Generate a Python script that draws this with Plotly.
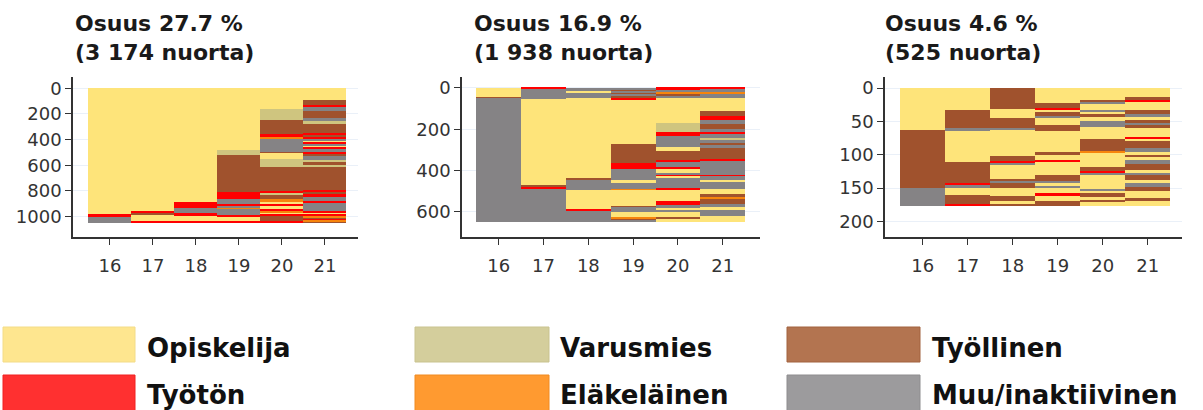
import plotly.graph_objects as go

# ---------------- data ----------------
AGES = [16, 17, 18, 19, 20, 21]

STATE_NAMES = {
    "O": "Opiskelija", "V": "Varusmies", "T": "Työllinen",
    "U": "Työtön", "E": "Eläkeläinen", "M": "Muu/inaktiivinen",
}
STATE_ORDER = ["O", "V", "T", "U", "E", "M"]

TITLES = ["Osuus 27.7 %<br>(3 174 nuorta)",
          "Osuus 16.9 %<br>(1 938 nuorta)",
          "Osuus 4.6 %<br>(525 nuorta)"]

# Panel 1: for each age column, states from top to bottom and cumulative segment ends
P1_STATES = [
    list("OUM"),
    list("OUTOU"),
    list("OUMUOU"),
    list("OVTUMUMEMUOU"),
    list("OVTUEUMTOVTUVTEOUOUEOUTU"),
    list("OTUMTMVTUTUMOUMOUMUTMVTVTUTUMUMUOUETUET"),
]
P1_ENDS = [
    [985, 1000, 1048],
    [962, 972, 982, 1038, 1048],
    [885, 935, 975, 995, 1040, 1048],
    [480, 520, 810, 865, 905, 915, 935, 942, 990, 998, 1040, 1048],
    [160, 248, 360, 385, 392, 398, 495, 508, 552, 612, 805, 818, 830, 870, 885,
     905, 920, 940, 960, 970, 978, 998, 1040, 1048],
    [90, 135, 145, 175, 230, 255, 275, 350, 365, 380, 392, 410, 420, 432, 450,
     460, 475, 500, 512, 530, 560, 575, 600, 612, 800, 812, 830, 845, 880, 895,
     960, 975, 985, 1000, 1010, 1020, 1030, 1040, 1048],
]

P2_STATES = [
    list("OTM"),
    list("UMOTUM"),
    list("MOMOTMOUM"),
    list("MTMTMTUOTUMOMEOTMOETM"),
    list("UMETMOVUMOTUMUOMUOMUOUMOMOTO"),
    list("UMEMOTUMTMUMVMTMTUMUMOMOTETMOMO"),
]
P2_ENDS = [
    [45, 50, 650],
    [7, 52, 472, 477, 489, 650],
    [15, 22, 48, 440, 447, 492, 587, 595, 650],
    [10, 18, 25, 32, 40, 48, 58, 273, 365, 393, 445, 462, 488, 493, 572, 578,
     602, 628, 635, 640, 650],
    [8, 20, 30, 38, 50, 170, 212, 233, 285, 305, 352, 360, 380, 390, 413, 420,
     428, 437, 486, 494, 545, 565, 580, 590, 602, 622, 636, 650],
    [6, 20, 28, 50, 112, 135, 155, 175, 200, 215, 225, 240, 250, 265, 275, 290,
     345, 355, 420, 427, 445, 455, 490, 515, 530, 535, 560, 575, 590, 620, 650],
]

P3_STATES = [
    list("OTM"),
    list("OTMOTUMOTU"),
    list("TOTMOTUMOTMTOTOT"),
    list("OTUOTMOTOTOUOTMOMOUOT"),
    list("OTOMOMOTOMOTEOTUMOMOTOTO"),
    list("OTUOTMOTMTOUOTMOTOMTOMTOMTOTO"),
]
P3_ENDS = [
    [63, 150, 177],
    [33, 60, 64, 111, 143, 146, 150, 160, 174, 177],
    [32, 45, 60, 63, 102, 109, 112, 115, 136, 140, 142, 150, 162, 170, 174, 177],
    [22, 30, 33, 36, 43, 45, 55, 64, 96, 101, 108, 111, 131, 139, 143, 148, 150,
     158, 162, 170, 177],
    [18, 20, 22, 24, 33, 36, 39, 43, 50, 58, 76, 94, 97, 118, 125, 128, 130, 151,
     155, 158, 163, 169, 171, 177],
    [13, 18, 21, 33, 39, 44, 48, 52, 56, 60, 73, 76, 80, 90, 96, 100, 103, 108,
     114, 123, 128, 131, 138, 143, 148, 155, 165, 170, 177],
]

Y_TICKS = [[0, 200, 400, 600, 800, 1000], [0, 200, 400, 600], [0, 50, 100, 150, 200]]

# ---------------- styling ----------------
BAR_COLORS = {"O": "#FEE47A", "V": "#CFC57F", "T": "#A0522D",
              "U": "#FF0000", "E": "#F7850C", "M": "#858385"}
LEGEND_COLORS = {"O": "#FEE68F", "V": "#D4CE9C", "T": "#B37450",
                 "U": "#FF3030", "E": "#FF9A30", "M": "#9C9B9D"}
LEGEND_BORDER = {"O": "#F3DC88", "V": "#C9C38F", "T": "#A2623E",
                 "U": "#F02020", "E": "#F08A20", "M": "#8E8D8F"}

W, H = 1203, 410
X_PIX = [(73, 358), (462, 760), (885, 1182)]
Y_TOP, Y_BOT = 77, 237
Y_RANGES = [[1159, -88], [721, -53], [223.5, -16.5]]
X_RANGES = [[15.14, 21.77], [15.18, 21.83], [15.16, 21.76]]
TITLE_X = [73, 472, 883]

PANELS = [(P1_STATES, P1_ENDS), (P2_STATES, P2_ENDS), (P3_STATES, P3_ENDS)]

fig = go.Figure()

for p, (states, ends) in enumerate(PANELS):
    xa = "x" if p == 0 else f"x{p+1}"
    ya = "y" if p == 0 else f"y{p+1}"
    for s in STATE_ORDER:
        xs, ys, bases = [], [], []
        for age, col_states, col_ends in zip(AGES, states, ends):
            start = 0
            for st, e in zip(col_states, col_ends):
                if st == s:
                    xs.append(age)
                    ys.append(e - start)
                    bases.append(start)
                start = e
        fig.add_trace(go.Bar(
            x=xs, y=ys, base=bases, xaxis=xa, yaxis=ya,
            marker=dict(color=BAR_COLORS[s], line=dict(width=0)),
            width=1.0, showlegend=False, name=STATE_NAMES[s],
            hoverinfo="skip",
        ))

layout = dict(
    width=W, height=H,
    margin=dict(l=0, r=0, t=0, b=0),
    paper_bgcolor="white", plot_bgcolor="white",
    barmode="overlay", bargap=0,
    showlegend=False,
    font=dict(family="DejaVu Sans", color="#333333"),
)

axis_font = dict(family="DejaVu Sans", size=18, color="#333333")
for p in range(3):
    xk = "xaxis" if p == 0 else f"xaxis{p+1}"
    yk = "yaxis" if p == 0 else f"yaxis{p+1}"
    xa = "x" if p == 0 else f"x{p+1}"
    ya = "y" if p == 0 else f"y{p+1}"
    x0, x1 = X_PIX[p]
    layout[xk] = dict(
        domain=[x0 / W, x1 / W], anchor=ya, range=X_RANGES[p],
        tickmode="array", tickvals=AGES, ticktext=[str(a) for a in AGES],
        showgrid=False, zeroline=False, showline=True,
        linecolor="#333333", linewidth=1.5,
        ticks="outside", ticklen=6, tickcolor="#333333", tickwidth=1,
        ticklabelstandoff=6, tickfont=axis_font, fixedrange=True,
    )
    layout[yk] = dict(
        domain=[1 - Y_BOT / H, 1 - Y_TOP / H], anchor=xa, range=Y_RANGES[p],
        tickmode="array", tickvals=Y_TICKS[p],
        showgrid=True, gridcolor="#EAF0F8", gridwidth=1,
        zeroline=False, showline=True, linecolor="#333333", linewidth=1.5,
        ticks="outside", ticklen=6, tickcolor="#333333", tickwidth=1,
        tickfont=axis_font, fixedrange=True,
    )

fig.update_layout(**layout)

for p in range(3):
    fig.add_annotation(
        xref="paper", yref="paper", x=TITLE_X[p] / W, y=1 - 38.5 / H,
        xanchor="left", yanchor="middle", align="left", showarrow=False,
        text=TITLES[p],
        font=dict(family="DejaVu Sans", size=22, color="#1a1a1a", weight="bold"),
    )

LEG_ROWS = [["O", "V", "T"], ["U", "E", "M"]]
SW_X = [(3, 135), (415, 549), (787, 920)]
SW_Y = [(327, 362), (375, 412)]
TXT_X = [145, 558, 930]
TXT_Y = [348, 395]
for r, row in enumerate(LEG_ROWS):
    for c, s in enumerate(row):
        fig.add_shape(
            type="rect", xref="paper", yref="paper",
            x0=SW_X[c][0] / W, x1=SW_X[c][1] / W,
            y0=1 - SW_Y[r][1] / H, y1=1 - SW_Y[r][0] / H,
            fillcolor=LEGEND_COLORS[s], line=dict(color=LEGEND_BORDER[s], width=1),
            layer="above",
        )
        fig.add_annotation(
            xref="paper", yref="paper", x=TXT_X[c] / W, y=1 - TXT_Y[r] / H,
            xanchor="left", yanchor="middle", showarrow=False,
            text=STATE_NAMES[s],
            font=dict(family="DejaVu Sans", size=26, color="#111111", weight="bold"),
        )

fig.write_html(
    "out.html",
    config={"displayModeBar": False},
    post_script="document.body.style.margin='0';document.body.style.overflow='hidden';",
)
